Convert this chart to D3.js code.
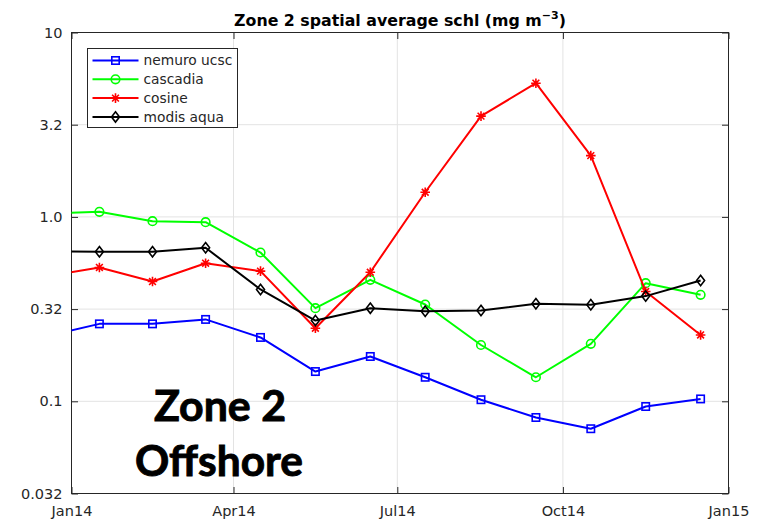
<!DOCTYPE html>
<html>
<head>
<meta charset="utf-8">
<script src="https://cdn.jsdelivr.net/npm/d3@7"></script>
<style>
  body { margin: 0; background: #fff; }
  svg { display: block; }
</style>
</head>
<body>
<svg id="chart" width="763" height="521"></svg>
<script>
// monthly mid-month time stamps (Dec 2013 point sits left of the axes, clipped)
const months = [
  '2013-12-16T12:00Z', '2014-01-16T12:00Z', '2014-02-15T00:00Z', '2014-03-16T12:00Z',
  '2014-04-16T00:00Z', '2014-05-16T12:00Z', '2014-06-16T00:00Z', '2014-07-16T12:00Z',
  '2014-08-16T12:00Z', '2014-09-16T00:00Z', '2014-10-16T12:00Z', '2014-11-16T00:00Z',
  '2014-12-16T12:00Z'
];

const nemuroUcsc = [0.223, 0.263, 0.263, 0.278, 0.222, 0.145, 0.175, 0.135, 0.102, 0.0817, 0.0710, 0.0937, 0.103];
const cascadia   = [1.04, 1.066, 0.948, 0.936, 0.641, 0.320, 0.456, 0.335, 0.202, 0.135, 0.205, 0.437, 0.378];
const cosine     = [0.473, 0.532, 0.446, 0.561, 0.508, 0.249, 0.501, 1.36, 3.52, 5.31, 2.15, 0.394, 0.229];
const modisAqua  = [0.652, 0.647, 0.647, 0.680, 0.404, 0.274, 0.320, 0.308, 0.311, 0.338, 0.334, 0.372, 0.452];

const seriesNames = ['nemuro ucsc', 'cascadia', 'cosine', 'modis aqua'];

const xTickDates  = ['2014-01-01T00:00Z', '2014-04-01T00:00Z', '2014-07-01T00:00Z', '2014-10-01T00:00Z', '2015-01-01T00:00Z'];
const xTickLabels = ['Jan14', 'Apr14', 'Jul14', 'Oct14', 'Jan15'];
const yTickValues = [0.0316228, 0.1, 0.316228, 1, 3.16228, 10];
const yTickLabels = ['0.032', '0.1', '0.32', '1.0', '3.2', '10'];

const series = [
  {name: seriesNames[0], values: nemuroUcsc, color: '#0000ff', marker: 'square'},
  {name: seriesNames[1], values: cascadia,   color: '#00ff00', marker: 'circle'},
  {name: seriesNames[2], values: cosine,     color: '#ff0000', marker: 'star'},
  {name: seriesNames[3], values: modisAqua,  color: '#000000', marker: 'diamond'}
];

const plotL = 71.5, plotR = 728.5, plotT = 32.5, plotB = 493.5;
const axisColor = '#262626';
const gridColor = '#e3e3e3';
const tickFont = '"DejaVu Sans", sans-serif';

const svg = d3.select('#chart');

const x = d3.scaleUtc()
  .domain([new Date(xTickDates[0]), new Date(xTickDates[xTickDates.length - 1])])
  .range([plotL, plotR]);
const y = d3.scaleLog()
  .domain([yTickValues[0], yTickValues[yTickValues.length - 1]])
  .range([plotB, plotT]);

svg.append('defs').append('clipPath').attr('id', 'plotClip')
  .append('rect')
  .attr('x', plotL).attr('y', plotT)
  .attr('width', plotR - plotL).attr('height', plotB - plotT);

// grid
const grid = svg.append('g');
grid.selectAll('line.vg')
  .data(xTickDates.slice(1, -1))
  .enter().append('line')
  .attr('x1', d => x(new Date(d))).attr('x2', d => x(new Date(d)))
  .attr('y1', plotT).attr('y2', plotB)
  .attr('stroke', gridColor).attr('stroke-width', 1);
grid.selectAll('line.hg')
  .data(yTickValues.slice(1, -1))
  .enter().append('line')
  .attr('y1', d => y(d)).attr('y2', d => y(d))
  .attr('x1', plotL).attr('x2', plotR)
  .attr('stroke', gridColor).attr('stroke-width', 1);

// axes
const tickLen = 6.5;
const bottomAxis = d3.axisBottom(x)
  .tickValues(xTickDates.map(d => new Date(d)))
  .tickFormat((_, i) => xTickLabels[i])
  .tickSizeInner(-tickLen).tickSizeOuter(0).tickPadding(12);
const leftAxis = d3.axisLeft(y)
  .tickValues(yTickValues)
  .tickFormat((_, i) => yTickLabels[i])
  .tickSizeInner(-tickLen).tickSizeOuter(0).tickPadding(9);
const topAxis = d3.axisTop(x)
  .tickValues(xTickDates.map(d => new Date(d)))
  .tickFormat('')
  .tickSizeInner(-tickLen).tickSizeOuter(0);
const rightAxis = d3.axisRight(y)
  .tickValues(yTickValues)
  .tickFormat('')
  .tickSizeInner(-tickLen).tickSizeOuter(0);

function styleAxis(g) {
  g.select('.domain').remove();
  g.selectAll('.tick line').attr('stroke', axisColor);
  g.selectAll('.tick text')
    .attr('fill', axisColor)
    .style('font-family', tickFont)
    .style('font-size', '14.5px');
}

svg.append('g').attr('transform', `translate(0,${plotB})`).call(bottomAxis).call(styleAxis);
svg.append('g').attr('transform', `translate(${plotL},0)`).call(leftAxis).call(styleAxis);
svg.append('g').attr('transform', `translate(0,${plotT})`).call(topAxis).call(styleAxis);
svg.append('g').attr('transform', `translate(${plotR},0)`).call(rightAxis).call(styleAxis);

svg.append('rect')
  .attr('x', plotL).attr('y', plotT)
  .attr('width', plotR - plotL).attr('height', plotB - plotT)
  .attr('fill', 'none').attr('stroke', axisColor).attr('stroke-width', 1);

// markers
function drawMarker(sel, type, color) {
  if (type === 'square') {
    sel.append('rect').attr('x', -3.7).attr('y', -3.7).attr('width', 7.4).attr('height', 7.4)
      .attr('fill', 'none').attr('stroke', color).attr('stroke-width', 1.6);
  } else if (type === 'circle') {
    sel.append('circle').attr('r', 4.3)
      .attr('fill', 'none').attr('stroke', color).attr('stroke-width', 1.6);
  } else if (type === 'diamond') {
    sel.append('path').attr('d', 'M0,-5.2L4,0L0,5.2L-4,0Z')
      .attr('fill', 'none').attr('stroke', color).attr('stroke-width', 1.6);
  } else if (type === 'star') {
    sel.append('path').attr('d', 'M0,-4.8V4.8M-4.8,0H4.8M-3.4,-3.4L3.4,3.4M-3.4,3.4L3.4,-3.4')
      .attr('fill', 'none').attr('stroke', color).attr('stroke-width', 1.6);
  }
}

const line = d3.line()
  .x((d, i) => x(new Date(months[i])))
  .y(d => y(d));

const plot = svg.append('g').attr('clip-path', 'url(#plotClip)');
series.forEach(s => {
  plot.append('path')
    .datum(s.values)
    .attr('d', line)
    .attr('fill', 'none')
    .attr('stroke', s.color)
    .attr('stroke-width', 2)
    .attr('stroke-linejoin', 'round');
  plot.selectAll(null)
    .data(s.values)
    .enter().append('g')
    .attr('transform', (d, i) => `translate(${x(new Date(months[i]))},${y(d)})`)
    .each(function () { drawMarker(d3.select(this), s.marker, s.color); });
});

// legend
const legend = svg.append('g').attr('transform', 'translate(87.5,48.5)');
legend.append('rect')
  .attr('width', 150).attr('height', 79)
  .attr('fill', '#fff').attr('stroke', axisColor).attr('stroke-width', 1);
series.forEach((s, i) => {
  const row = legend.append('g').attr('transform', `translate(0,${12 + i * 18.8})`);
  row.append('line').attr('x1', 5).attr('x2', 51).attr('y1', 0).attr('y2', 0)
    .attr('stroke', s.color).attr('stroke-width', 2);
  drawMarker(row.append('g').attr('transform', 'translate(28,0)'), s.marker, s.color);
  row.append('text')
    .attr('x', 56).attr('y', 4.8)
    .attr('fill', axisColor)
    .style('font-family', tickFont)
    .style('font-size', '13.8px')
    .text(s.name);
});

// title
const title = svg.append('text')
  .attr('x', (plotL + plotR) / 2).attr('y', 26)
  .attr('text-anchor', 'middle')
  .attr('fill', '#000')
  .style('font-family', tickFont)
  .style('font-size', '15.8px')
  .style('font-weight', 'bold');
title.append('tspan').text('Zone 2 spatial average schl (mg m');
title.append('tspan').attr('dy', -7).style('font-size', '11px').text('\u22123');
title.append('tspan').attr('dy', 7).text(')');

// annotation
const note = svg.append('g')
  .style('font-family', 'Lato, "Open Sans", sans-serif')
  .style('font-weight', 'bold')
  .style('font-size', '42px')
  .attr('fill', '#000')
  .attr('stroke', '#000')
  .attr('stroke-width', 0.9);
note.append('text').attr('x', 154).attr('y', 421)
  .attr('textLength', 132).attr('lengthAdjust', 'spacingAndGlyphs').text('Zone 2');
note.append('text').attr('x', 135).attr('y', 476)
  .attr('textLength', 168).attr('lengthAdjust', 'spacingAndGlyphs').text('Offshore');
</script>
</body>
</html>
